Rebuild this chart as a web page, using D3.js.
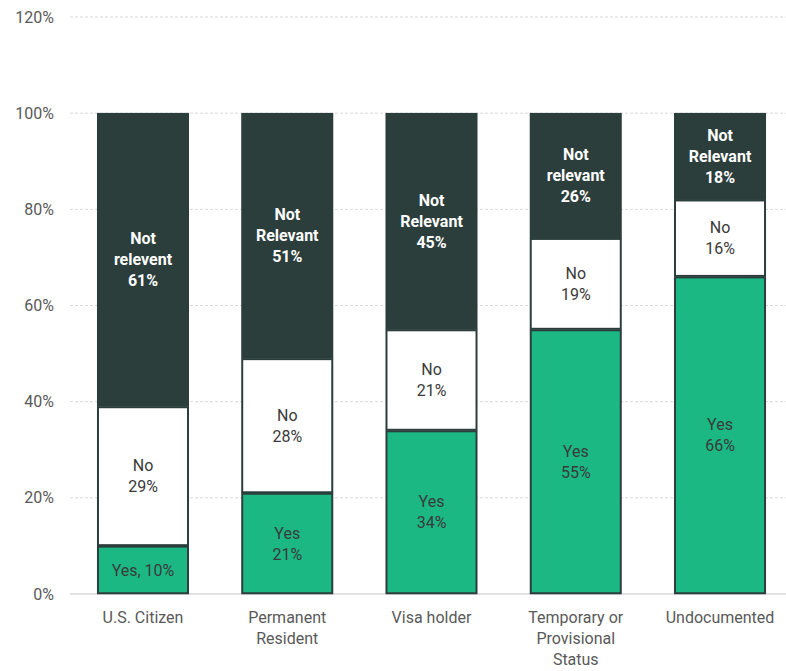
<!DOCTYPE html>
<html>
<head>
<meta charset="utf-8">
<script src="https://cdn.jsdelivr.net/npm/d3@7"></script>
<style>
  body { margin: 0; background: #fff; }
  svg { display: block; font-family: Roboto, "Liberation Sans", sans-serif; }
</style>
</head>
<body>
<div id="chart"></div>
<script>
var categories = ["U.S. Citizen", "Permanent Resident", "Visa holder", "Temporary or Provisional Status", "Undocumented"];
var catLines = [["U.S. Citizen"], ["Permanent", "Resident"], ["Visa holder"], ["Temporary or", "Provisional", "Status"], ["Undocumented"]];
var yesValues = [10, 21, 34, 55, 66];
var noValues = [29, 28, 21, 19, 16];
var notRelValues = [61, 51, 45, 26, 18];
var yesLabels = [["Yes, 10%"], ["Yes", "21%"], ["Yes", "34%"], ["Yes", "55%"], ["Yes", "66%"]];
var noLabels = [["No", "29%"], ["No", "28%"], ["No", "21%"], ["No", "19%"], ["No", "16%"]];
var notRelLabels = [["Not", "relevent", "61%"], ["Not", "Relevant", "51%"], ["Not", "Relevant", "45%"], ["Not", "relevant", "26%"], ["Not", "Relevant", "18%"]];
var yTicks = [0, 20, 40, 60, 80, 100, 120];

var width = 786, height = 671;

var svg = d3.select("#chart").append("svg")
    .attr("width", width)
    .attr("height", height);

var y = d3.scaleLinear().domain([0, 120]).range([594, 17]);
var x = d3.scaleBand().domain(categories).range([70, 793])
    .paddingInner(0.362).paddingOuter(0.187);

// gridlines + y labels
svg.append("g").selectAll("line")
    .data(yTicks.filter(function(d) { return d > 0; }))
    .enter().append("line")
    .attr("x1", 70).attr("x2", width)
    .attr("y1", function(d) { return y(d); })
    .attr("y2", function(d) { return y(d); })
    .attr("stroke", "#d9d9d9")
    .attr("stroke-dasharray", "3,2");

svg.append("line")
    .attr("x1", 70).attr("x2", width)
    .attr("y1", y(0)).attr("y2", y(0))
    .attr("stroke", "#d9d9d9").attr("stroke-width", 1.5);

svg.append("g").selectAll("text")
    .data(yTicks)
    .enter().append("text")
    .attr("x", 54)
    .attr("y", function(d) { return y(d); })
    .attr("dy", "0.35em")
    .attr("text-anchor", "end")
    .attr("fill", "#595959")
    .style("font-size", "16px")
    .text(function(d) { return d + "%"; });

// stacked segments
var rows = categories.map(function(c, i) {
  return [
    { cat: c, y0: 0, y1: yesValues[i], fill: "#1bb884", lab: yesLabels[i], tc: "#3a3a3a", fw: 400 },
    { cat: c, y0: yesValues[i], y1: yesValues[i] + noValues[i], fill: "#ffffff", lab: noLabels[i], tc: "#3a3a3a", fw: 400 },
    { cat: c, y0: yesValues[i] + noValues[i], y1: yesValues[i] + noValues[i] + notRelValues[i], fill: "#2c3e3c", lab: notRelLabels[i], tc: "#ffffff", fw: 700 }
  ];
});
var segs = [].concat.apply([], rows);

var g = svg.append("g");
g.selectAll("rect")
    .data(segs)
    .enter().append("rect")
    .attr("x", function(d) { return x(d.cat) + 1; })
    .attr("width", x.bandwidth() - 2)
    .attr("y", function(d) { return y(d.y1) + 0.75; })
    .attr("height", function(d) { return y(d.y0) - y(d.y1) - 1.5; })
    .attr("fill", function(d) { return d.fill; })
    .attr("stroke", "#2c3e3c")
    .attr("stroke-width", 2);

var lh = 21;
var labels = g.selectAll("text.seg")
    .data(segs)
    .enter().append("text")
    .attr("class", "seg")
    .attr("text-anchor", "middle")
    .attr("fill", function(d) { return d.tc; })
    .style("font-size", "16px")
    .style("font-weight", function(d) { return d.fw; });

labels.each(function(d) {
  var cx = x(d.cat) + x.bandwidth() / 2;
  var cy = (y(d.y0) + y(d.y1)) / 2;
  var n = d.lab.length;
  d3.select(this).selectAll("tspan")
    .data(d.lab)
    .enter().append("tspan")
    .attr("x", cx)
    .attr("y", function(t, j) { return cy + (j - (n - 1) / 2) * lh; })
    .attr("dy", "0.35em")
    .text(function(t) { return t; });
});

// x labels
svg.append("g").selectAll("text")
    .data(categories)
    .enter().append("text")
    .attr("text-anchor", "middle")
    .attr("fill", "#595959")
    .style("font-size", "16px")
    .each(function(c, i) {
      var cx = x(c) + x.bandwidth() / 2;
      d3.select(this).selectAll("tspan")
        .data(catLines[i])
        .enter().append("tspan")
        .attr("x", cx)
        .attr("y", function(t, j) { return 617 + j * 21; })
        .attr("dy", "0.35em")
        .text(function(t) { return t; });
    });
</script>
</body>
</html>
